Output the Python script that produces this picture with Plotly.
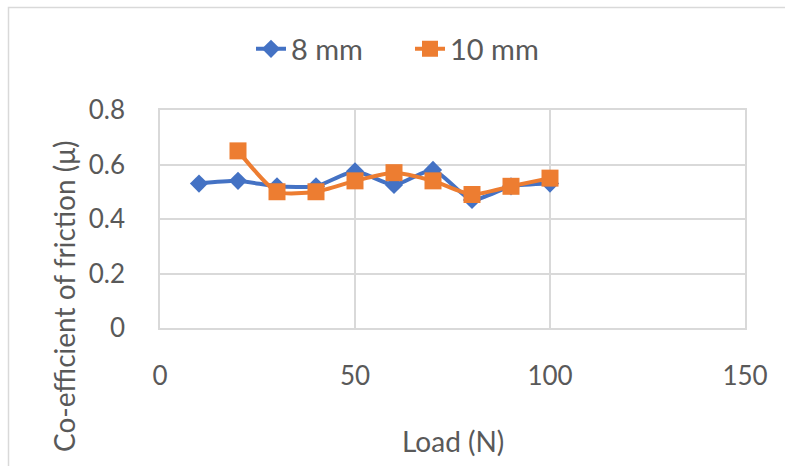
import plotly.graph_objects as go

load_8mm = [10, 20, 30, 40, 50, 60, 70, 80, 90, 100]
cof_8mm = [0.53, 0.54, 0.52, 0.52, 0.575, 0.525, 0.58, 0.47, 0.52, 0.53]
load_10mm = [20, 30, 40, 50, 60, 70, 80, 90, 100]
cof_10mm = [0.65, 0.50, 0.50, 0.54, 0.57, 0.54, 0.49, 0.52, 0.55]
series_names = ["8 mm", "10 mm"]
x_ticks = [0, 50, 100, 150]
y_ticks = [0, 0.2, 0.4, 0.6, 0.8]
y_tick_text = ["0", "0.2", "0.4", "0.6", "0.8"]

BLUE = "#4472C4"
ORANGE = "#ED7D31"
GRID = "#D9D9D9"
TXT = "#595959"
FONT = "Lato"

W, H = 785, 466
L, R, T, B = 160, 40, 110, 138
pw, ph = W - L - R, H - T - B


def px_x(p):
    return (p - L) / pw


def px_y(p):
    return (H - B - p) / ph


fig = go.Figure()
fig.add_trace(go.Scatter(
    x=load_8mm, y=cof_8mm, name=series_names[0], mode="lines+markers",
    line=dict(color=BLUE, width=4, shape="spline", smoothing=0.6),
    marker=dict(symbol="diamond", size=14, color=BLUE),
))
fig.add_trace(go.Scatter(
    x=load_10mm, y=cof_10mm, name=series_names[1], mode="lines+markers",
    line=dict(color=ORANGE, width=4, shape="spline", smoothing=0.6),
    marker=dict(symbol="square", size=17, color=ORANGE),
))

fig.update_layout(
    width=W, height=H,
    margin=dict(l=L, r=R, t=T, b=B, autoexpand=False),
    paper_bgcolor="white", plot_bgcolor="white",
    font=dict(family=FONT, color=TXT, size=26),
    showlegend=True,
    legend=dict(orientation="h", x=px_x(410), y=px_y(49), xanchor="center",
                yanchor="middle", font=dict(size=29, color=TXT),
                bgcolor="rgba(0,0,0,0)", entrywidth=114, tracegroupgap=0),
    xaxis=dict(range=[0, 150], tickvals=x_ticks, showgrid=True, gridcolor=GRID,
               gridwidth=1.5, zeroline=False, showline=True, linecolor=GRID,
               linewidth=1.5, mirror=True, ticks="outside", ticklen=24,
               tickcolor="rgba(0,0,0,0)", tickfont=dict(size=26, color=TXT)),
    yaxis=dict(range=[0, 0.8], tickvals=y_ticks, ticktext=y_tick_text,
               showgrid=True, gridcolor=GRID, gridwidth=1.5, zeroline=False,
               showline=True, linecolor=GRID, linewidth=1.5, mirror=True,
               ticks="outside", ticklen=28, tickcolor="rgba(0,0,0,0)",
               tickfont=dict(size=26, color=TXT)),
    annotations=[
        dict(text="Load (N)", xref="paper", yref="paper", x=px_x(453),
             y=px_y(441), xanchor="center", yanchor="middle", showarrow=False,
             font=dict(size=28, color=TXT)),
        dict(text="Co-efficient of friction (\u03bc)", xref="paper", yref="paper",
             x=px_x(64), y=px_y(297), xanchor="center", yanchor="middle",
             textangle=-90, showarrow=False, font=dict(size=28, color=TXT)),
    ],
    shapes=[
        dict(type="path", xref="paper", yref="paper",
             path=f"M {px_x(8.5)} {px_y(480)} L {px_x(8.5)} {px_y(7.5)} L {px_x(800)} {px_y(7.5)}",
             line=dict(color=GRID, width=1.5)),
    ],
)

fig.write_html("out.html")
